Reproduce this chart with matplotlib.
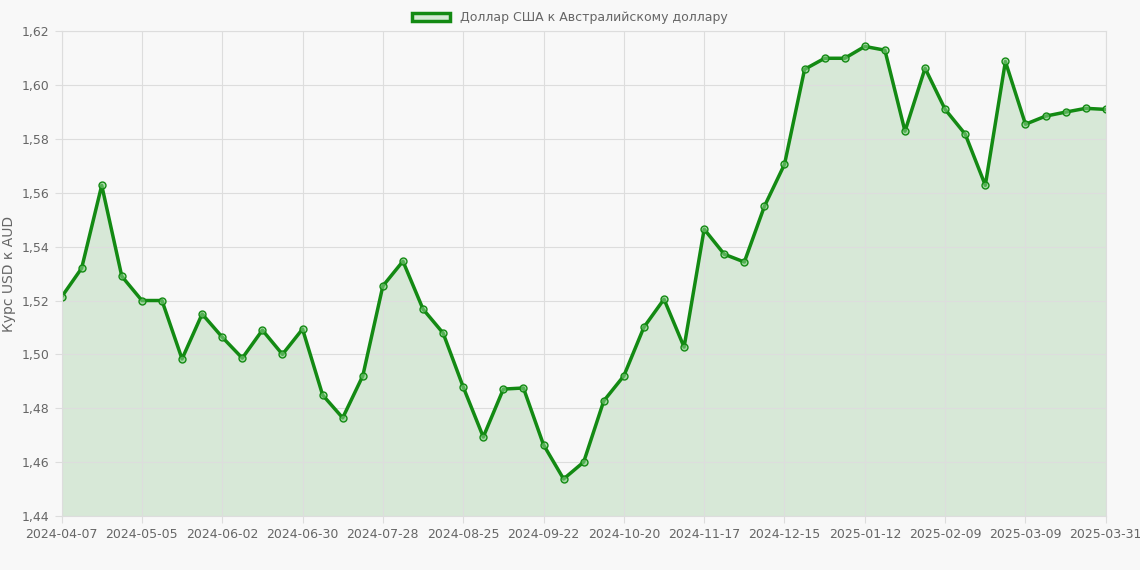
import matplotlib
matplotlib.use("Agg")
import matplotlib.pyplot as plt
from matplotlib.patches import Patch

values = [1.5213,1.532,1.5628,1.529,1.520,1.520,1.4983,1.515,1.5064,1.4986,1.509,1.500,1.5094,
          1.4849,1.4764,1.492,1.5254,1.5346,1.5168,1.5079,1.4879,1.4693,1.4871,1.4875,1.4664,
          1.4537,1.460,1.4827,1.492,1.5101,1.5205,1.5027,1.5465,1.5372,1.5343,1.555,1.5706,
          1.6059,1.610,1.610,1.6144,1.613,1.5829,1.6063,1.591,1.5818,1.5628,1.6088,1.5855,
          1.5885,1.590,1.5914,1.591]
tick_pos = [0,4,8,12,16,20,24,28,32,36,40,44,48,52]
tick_labels = ["2024-04-07","2024-05-05","2024-06-02","2024-06-30","2024-07-28","2024-08-25",
               "2024-09-22","2024-10-20","2024-11-17","2024-12-15","2025-01-12","2025-02-09",
               "2025-03-09","2025-03-31"]
series_name = "Доллар США к Австралийскому доллару"

x = list(range(len(values)))
fig = plt.figure(figsize=(11.4, 5.7), dpi=100)
fig.patch.set_facecolor("#f8f8f8")
ax = fig.add_axes([0.054, 0.095, 0.916, 0.85])
ax.set_facecolor("#f8f8f8")
ax.fill_between(x, values, 1.44, color="#008000", alpha=0.13, linewidth=0)
ax.plot(x, values, color="#138a13", linewidth=2.5, marker="o", markersize=5,
        markerfacecolor=(0.5, 0.8, 0.5, 0.6), markeredgecolor="#138a13", markeredgewidth=1)
ax.set_xlim(0, 52)
ax.set_ylim(1.44, 1.62)
ax.set_xticks(tick_pos)
ax.set_xticklabels(tick_labels)
yt = [1.44 + 0.02*i for i in range(10)]
ax.set_yticks(yt)
ax.set_yticklabels([f"{v:.2f}".replace(".", ",") for v in yt])
ax.grid(True, color="#dddddd", linewidth=0.8)
for s in ax.spines.values():
    s.set_color("#dddddd")
ax.tick_params(colors="#666666", labelsize=9, length=5, color="#dddddd")
ax.set_ylabel("Курс USD к AUD", color="#666666", fontsize=10)
fig.legend(handles=[Patch(facecolor="#d5ead5", edgecolor="#138a13", linewidth=2.5, label=series_name)],
           loc="upper center", bbox_to_anchor=(0.5, 1.0), frameon=False, fontsize=9,
           labelcolor="#666666", handlelength=3)
fig.savefig("out.png", dpi=100, facecolor=fig.get_facecolor())
